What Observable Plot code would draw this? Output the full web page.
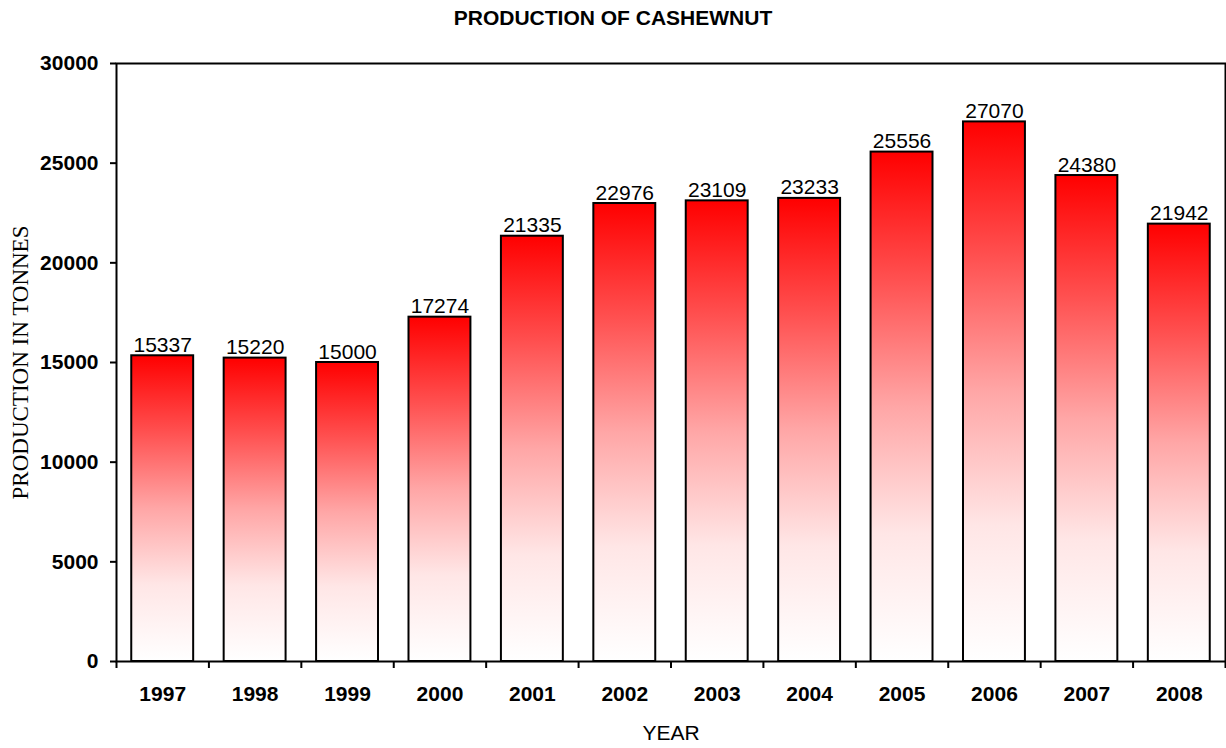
<!DOCTYPE html>
<html>
<head>
<meta charset="utf-8">
<script src="https://cdn.jsdelivr.net/npm/d3@7"></script>
<script src="https://cdn.jsdelivr.net/npm/@observablehq/plot@0.6"></script>
<style>
  html, body { margin: 0; padding: 0; background: #fff; }
  #title { height: 40px; width: 1226px; text-align: center; font-family: "Liberation Sans", Arial, sans-serif; font-weight: bold; font-size: 21px; line-height: 36px; color: #000; }
  #chart svg { display: block; }
</style>
</head>
<body>
<div id="title">PRODUCTION OF CASHEWNUT</div>
<div id="chart"></div>
<script>
const years = [1997, 1998, 1999, 2000, 2001, 2002, 2003, 2004, 2005, 2006, 2007, 2008];
const production = [15337, 15220, 15000, 17274, 21335, 22976, 23109, 23233, 25556, 27070, 24380, 21942];
const yTicks = [0, 5000, 10000, 15000, 20000, 25000, 30000];
const yLabel = "PRODUCTION IN TONNES";
const xLabel = "YEAR";

const data = years.map((y, i) => ({year: y, value: production[i]}));
const boundaries = [years[0] - 0.5, ...years.map(y => y + 0.5)];
const half = 0.335;
const font = "'Liberation Sans', Arial, sans-serif";

const chart = Plot.plot({
  width: 1226,
  height: 708,
  marginTop: 23,
  marginBottom: 87,
  marginLeft: 116,
  marginRight: 1,
  style: {fontFamily: font, color: "#000", background: "#fff"},
  x: {type: "linear", domain: [boundaries[0], boundaries[boundaries.length - 1]]},
  y: {domain: [0, 30000]},
  marks: [
    Plot.rectY(data, {x1: d => d.year - half, x2: d => d.year + half, y: "value", fill: "url(#barGrad)", stroke: "#000", strokeWidth: 2}),
    Plot.frame({stroke: "#000", strokeWidth: 2}),
    Plot.axisY({ticks: yTicks, tickSize: 6, tickPadding: 12, strokeWidth: 2, fontSize: 21, fontWeight: "bold", tickFormat: d => String(d), label: null}),
    Plot.axisX({ticks: boundaries, tickSize: 7, strokeWidth: 2, tickFormat: () => "", label: null}),
    Plot.axisX({ticks: years, tickSize: 0, tickPadding: 25, fontSize: 21, fontWeight: "bold", tickFormat: d => String(d), label: null}),
    Plot.text(data, {x: "year", y: "value", text: d => String(d.value), lineAnchor: "bottom", dy: -4, fontSize: 21}),
    Plot.text([yLabel], {frameAnchor: "left", textAnchor: "middle", dx: -96, rotate: -90, fontSize: 23, fontFamily: "'Liberation Serif', 'Times New Roman', serif"}),
    Plot.text([xLabel], {frameAnchor: "bottom", dy: 78, fontSize: 21})
  ]
});

const svg = d3.select(chart);
const defs = svg.insert("defs", ":first-child");
const grad = defs.append("linearGradient").attr("id", "barGrad").attr("x1", 0).attr("y1", 0).attr("x2", 0).attr("y2", 1);
[[0, "#ff0000"], [0.25, "#ff5050"], [0.5, "#ffa6a6"], [0.75, "#ffe6e6"], [1, "#ffffff"]]
  .forEach(([o, c]) => grad.append("stop").attr("offset", o).attr("stop-color", c));

document.getElementById("chart").appendChild(chart);
</script>
</body>
</html>
